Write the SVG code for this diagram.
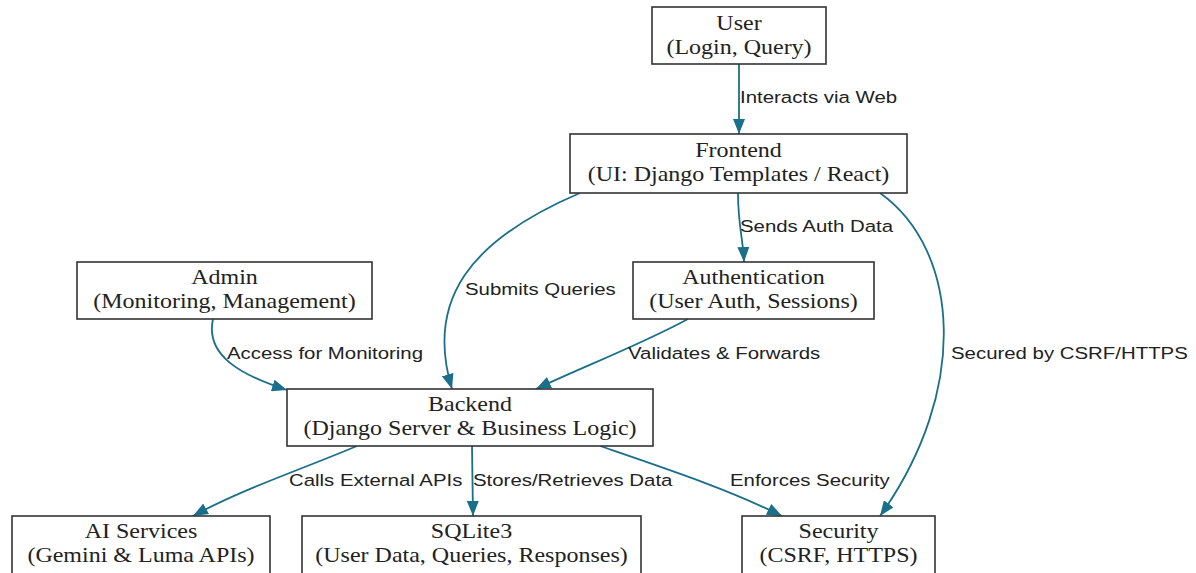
<svg xmlns="http://www.w3.org/2000/svg" width="1196" height="573" viewBox="0 0 1196 573">
<style>
.box{fill:#fff;stroke:#333;stroke-width:1.6}
.nt{font-family:"Liberation Serif","Times New Roman",serif;font-size:20px;fill:#222;text-anchor:middle}
.et{font-family:"Liberation Sans",Arial,sans-serif;font-size:17px;fill:#222}
.edge{fill:none;stroke:#1b6f8a;stroke-width:1.8;marker-end:url(#arr)}
</style>
<defs>
<marker id="arr" viewBox="0 0 15 12" refX="15" refY="6" markerWidth="15" markerHeight="12" markerUnits="userSpaceOnUse" orient="auto">
<path d="M0,0 L15,6 L0,12 z" fill="#1b6f8a"/>
</marker>
</defs>
<rect width="1196" height="573" fill="#fff"/>
<g id="connectors">
<path class="edge" d="M739,64 L739,134"/>
<path class="edge" d="M738,193 C738,225 743,238 744,262"/>
<path class="edge" d="M580,193 C470,240 425,300 452,389"/>
<path class="edge" d="M213,319 C205,355 240,375 287,390"/>
<path class="edge" d="M688,319 C640,345 580,368 536,389"/>
<path class="edge" d="M880,193 C960,250 970,390 880,516"/>
<path class="edge" d="M357,446 C300,470 240,490 193,516"/>
<path class="edge" d="M472,446 L473,516"/>
<path class="edge" d="M600,446 C670,470 730,490 782,516"/>
<g class="et">
<text transform="translate(740,103) scale(1.2,1)">Interacts via Web</text>
<text transform="translate(740,232) scale(1.2,1)">Sends Auth Data</text>
<text transform="translate(465,295) scale(1.2,1)">Submits Queries</text>
<text transform="translate(227,359) scale(1.2,1)">Access for Monitoring</text>
<text transform="translate(628,359) scale(1.2,1)">Validates &amp; Forwards</text>
<text transform="translate(951,359) scale(1.2,1)">Secured by CSRF/HTTPS</text>
<text transform="translate(289,486) scale(1.2,1)">Calls External APIs</text>
<text transform="translate(473,486) scale(1.2,1)">Stores/Retrieves Data</text>
<text transform="translate(730,486) scale(1.2,1)">Enforces Security</text>
</g>
</g>
<g id="user">
<rect class="box" x="652" y="7" width="174" height="57"/>
<g transform="translate(739,0) scale(1.2,1)"><text class="nt" x="0" y="30">User</text><text class="nt" x="0" y="54">(Login, Query)</text></g>
</g>
<g id="frontend">
<rect class="box" x="570" y="134" width="337" height="59"/>
<g transform="translate(738.5,0) scale(1.2,1)"><text class="nt" x="0" y="157">Frontend</text><text class="nt" x="0" y="181">(UI: Django Templates / React)</text></g>
</g>
<g id="admin">
<rect class="box" x="77" y="262" width="295" height="57"/>
<g transform="translate(224.5,0) scale(1.2,1)"><text class="nt" x="0" y="284">Admin</text><text class="nt" x="0" y="308">(Monitoring, Management)</text></g>
</g>
<g id="authentication">
<rect class="box" x="633" y="262" width="241" height="57"/>
<g transform="translate(753.5,0) scale(1.2,1)"><text class="nt" x="0" y="284">Authentication</text><text class="nt" x="0" y="308">(User Auth, Sessions)</text></g>
</g>
<g id="backend">
<rect class="box" x="287" y="389" width="366" height="57"/>
<g transform="translate(470,0) scale(1.2,1)"><text class="nt" x="0" y="411">Backend</text><text class="nt" x="0" y="435">(Django Server &amp; Business Logic)</text></g>
</g>
<g id="ai_services">
<rect class="box" x="12" y="516" width="258" height="60"/>
<g transform="translate(141,0) scale(1.2,1)"><text class="nt" x="0" y="538">AI Services</text><text class="nt" x="0" y="562">(Gemini &amp; Luma APIs)</text></g>
</g>
<g id="sqlite3">
<rect class="box" x="302" y="516" width="339" height="60"/>
<g transform="translate(471.5,0) scale(1.2,1)"><text class="nt" x="0" y="538">SQLite3</text><text class="nt" x="0" y="562">(User Data, Queries, Responses)</text></g>
</g>
<g id="security">
<rect class="box" x="742" y="516" width="193" height="60"/>
<g transform="translate(838.5,0) scale(1.2,1)"><text class="nt" x="0" y="538">Security</text><text class="nt" x="0" y="562">(CSRF, HTTPS)</text></g>
</g>
</svg>
